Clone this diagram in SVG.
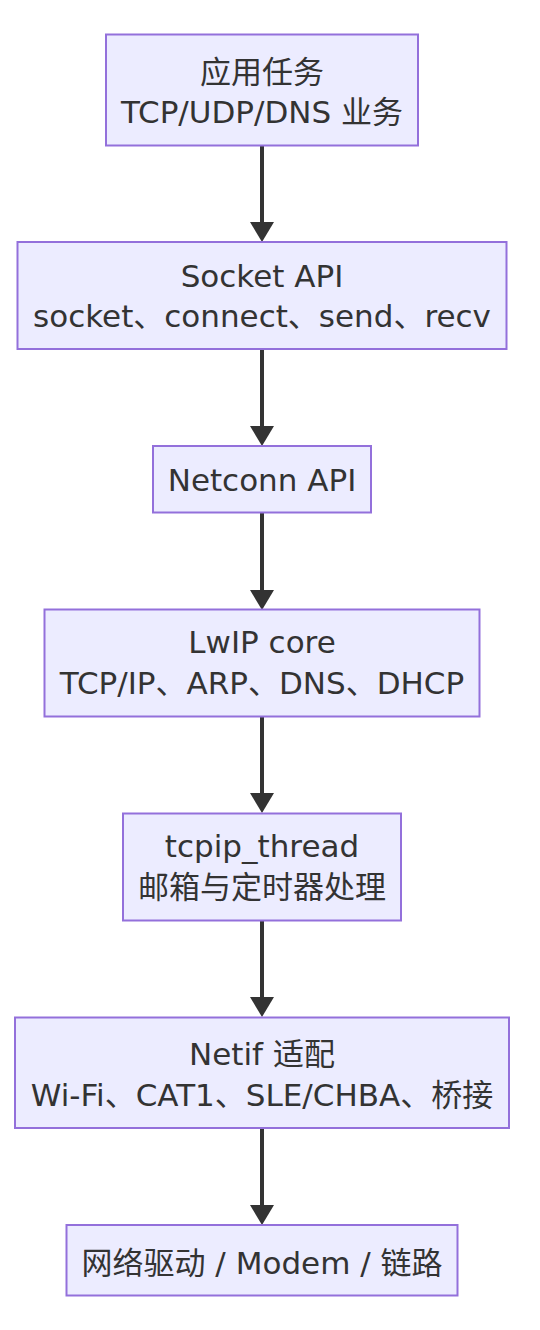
<svg xmlns="http://www.w3.org/2000/svg" width="540" height="1330" viewBox="0 0 540 1330">
<style>
.node rect{fill:#ECECFF;stroke:#9370DB;stroke-width:2}
.node text{font-family:"DejaVu Sans","Noto Sans CJK SC",sans-serif;font-size:31px;fill:#333;text-anchor:middle}
.edge{stroke:#333;stroke-width:4;fill:none}
</style>
<defs>
<marker id="arrow" viewBox="0 0 20 24" refX="0" refY="12" markerWidth="20" markerHeight="24" markerUnits="userSpaceOnUse" orient="auto">
<path d="M0,0 L20,12 L0,24 z" fill="#333"/>
</marker>
</defs>
<rect width="540" height="1330" fill="#fff"/>
<g id="connectors">
<line class="edge" x1="262" y1="146" x2="262" y2="222" marker-end="url(#arrow)"/>
<line class="edge" x1="262" y1="349" x2="262" y2="426" marker-end="url(#arrow)"/>
<line class="edge" x1="262" y1="513" x2="262" y2="590" marker-end="url(#arrow)"/>
<line class="edge" x1="262" y1="717" x2="262" y2="793" marker-end="url(#arrow)"/>
<line class="edge" x1="262" y1="921" x2="262" y2="997" marker-end="url(#arrow)"/>
<line class="edge" x1="262" y1="1128" x2="262" y2="1205" marker-end="url(#arrow)"/>
</g>
<g id="app" class="node">
<rect x="106" y="34.5" width="312" height="111"/>
<text x="262" y="83">应用任务</text>
<text x="262" y="123">TCP/UDP/DNS 业务</text>
</g>
<g id="socket" class="node">
<rect x="17.5" y="242" width="489" height="107"/>
<text x="262" y="286.7">Socket API</text>
<text x="262" y="326.7">socket、connect、send、recv</text>
</g>
<g id="netconn" class="node">
<rect x="153" y="446" width="218" height="66.5"/>
<text x="262" y="490.7">Netconn API</text>
</g>
<g id="lwip" class="node">
<rect x="44.5" y="609.5" width="435" height="107"/>
<text x="262" y="653.3">LwIP core</text>
<text x="262" y="694">TCP/IP、ARP、DNS、DHCP</text>
</g>
<g id="tcpip" class="node">
<rect x="123" y="813.5" width="278" height="107"/>
<text x="262" y="857.3">tcpip_thread</text>
<text x="262" y="897.5">邮箱与定时器处理</text>
</g>
<g id="netif" class="node">
<rect x="15" y="1017.5" width="494" height="110.5"/>
<text x="262" y="1065">Netif 适配</text>
<text x="262" y="1105.7">Wi-Fi、CAT1、SLE/CHBA、桥接</text>
</g>
<g id="driver" class="node">
<rect x="66.5" y="1225" width="391" height="70.5"/>
<text x="262" y="1274">网络驱动 / Modem / 链路</text>
</g>
</svg>
